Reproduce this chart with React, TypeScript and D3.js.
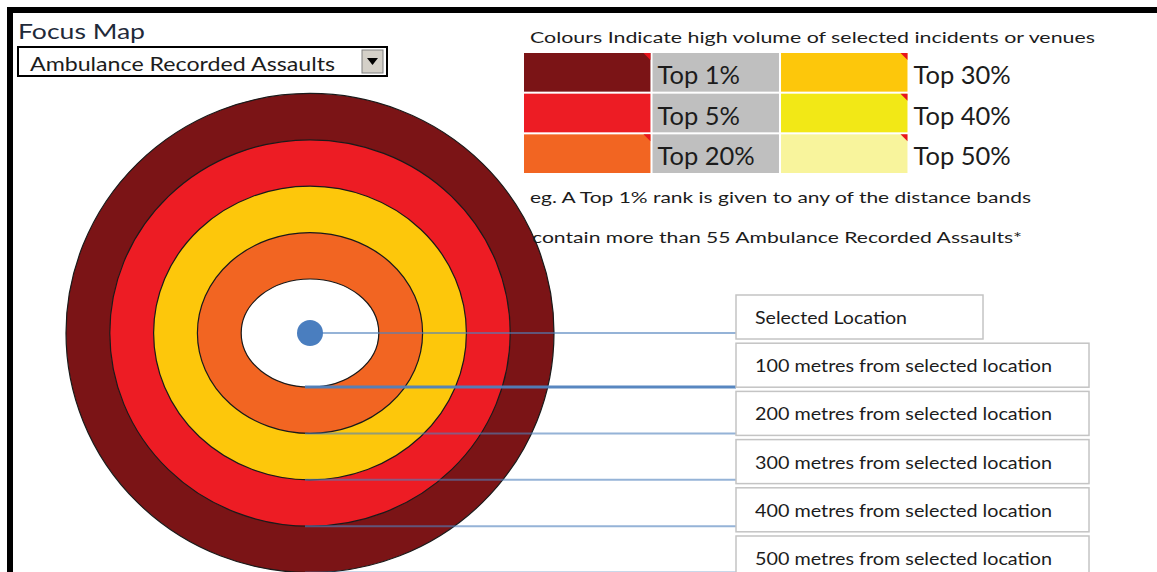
import React from 'react'
import { scaleLinear, scaleBand } from 'd3'

// rings, inner to outer
const ringDistances = [100, 200, 300, 400, 500]
const ringRanks = ['', 'Top 20%', 'Top 30%', 'Top 5%', 'Top 1%']

// legend
const legendLabels = ['Top 1%', 'Top 5%', 'Top 20%', 'Top 30%', 'Top 40%', 'Top 50%']
const legendColours = ['#7b1416', '#ed1c24', '#f26522', '#fdc70b', '#f2e816', '#f8f49c']
const legendCorner = [true, false, true, true, true, true]

// callout boxes
const boxLabels = [
  'Selected Location',
  '100 metres from selected location',
  '200 metres from selected location',
  '300 metres from selected location',
  '400 metres from selected location',
  '500 metres from selected location',
]

const W = 1157
const H = 572
const FONT = 'Lato, "Open Sans", sans-serif'
const TEXT = '#1c1c1c'

const App = () => {
  const cx = 310
  const cy = 333

  // distance (m) -> ellipse radius (px)
  const rx = scaleLinear().domain([0, 500]).range([25, 244])
  const ry = scaleLinear().domain([0, 500]).range([7.6, 239.6])

  const colourOf = (rank: string) => {
    const i = legendLabels.indexOf(rank)
    return i < 0 ? '#ffffff' : legendColours[i]
  }

  const rows = scaleBand<number>().domain([0, 1, 2]).range([53, 173]).paddingInner(0.05)
  const cols = scaleBand<number>().domain([0, 1, 2, 3]).range([524, 1036]).paddingInner(0.016)

  const boxY = scaleLinear().domain([0, boxLabels.length - 1]).range([295, 536])
  const boxX = 736

  // y where each callout line leaves the target
  const lineY = (i: number) => (i === 0 ? cy : cy + ry(ringDistances[i - 1]))

  const rings = ringDistances.map((d, i) => ({ d, rank: ringRanks[i] })).reverse()

  return (
    <svg width={W} height={H} style={{ position: 'absolute', left: 0, top: 0, background: '#fff' }}>
      {/* frame */}
      <rect x={7} y={7} width={W} height={6} fill="#000" />
      <rect x={7} y={7} width={6} height={H} fill="#000" />

      {/* header + dropdown */}
      <text x={18} y={39} fontFamily={FONT} fontSize={21} fill="#1f2a3a" textLength={127} lengthAdjust="spacingAndGlyphs">
        Focus Map
      </text>
      <rect x={18} y={47} width={369} height={29} fill="#fff" stroke="#000" strokeWidth={2} />
      <text x={30} y={71} fontFamily={FONT} fontSize={20} fill={TEXT} textLength={305} lengthAdjust="spacingAndGlyphs">
        Ambulance Recorded Assaults
      </text>
      <rect x={362} y={50} width={21} height={23} fill="#d4d0c8" stroke="#808080" strokeWidth={1} />
      <path d="M367,58 L378,58 L372.5,65 Z" fill="#000" />

      {/* rings */}
      {rings.map(r => (
        <ellipse
          key={r.d}
          cx={cx}
          cy={cy}
          rx={rx(r.d)}
          ry={ry(r.d)}
          fill={colourOf(r.rank)}
          stroke="#1a1a1a"
          strokeWidth={1.2}
        />
      ))}

      {/* callout lines */}
      {boxLabels.map((lab, i) => (
        <line
          key={'l' + i}
          x1={i === 0 ? cx : cx - 5}
          x2={boxX}
          y1={lineY(i)}
          y2={lineY(i)}
          stroke="#4f81bd"
          strokeOpacity={i === 1 ? 0.95 : 0.6}
          strokeWidth={i === 1 ? 3 : 2}
        />
      ))}
      <circle cx={cx} cy={cy} r={13} fill="#4a7ebf" />

      {/* callout boxes */}
      {boxLabels.map((lab, i) => (
        <g key={'b' + i} transform={`translate(${boxX},${boxY(i)})`}>
          <rect width={i === 0 ? 247 : 353} height={44} fill="#fff" stroke="#c4c4c4" strokeWidth={1.5} />
          <text
            x={19}
            y={29}
            fontFamily={FONT}
            fontSize={16.5}
            fill={TEXT}
            textLength={i === 0 ? 152 : 297}
            lengthAdjust="spacingAndGlyphs"
          >
            {lab}
          </text>
        </g>
      ))}

      {/* legend */}
      <text x={530} y={43} fontFamily={FONT} fontSize={16} fill={TEXT} textLength={565} lengthAdjust="spacingAndGlyphs">
        Colours Indicate high volume of selected incidents or venues
      </text>
      {legendLabels.map((lab, i) => {
        const row = i % 3
        const block = Math.floor(i / 3)
        const sx = cols(block * 2)!
        const lx = cols(block * 2 + 1)!
        const y = rows(row)!
        const bw = cols.bandwidth()
        const bh = rows.bandwidth()
        return (
          <g key={lab}>
            <rect x={sx} y={y} width={bw} height={bh} fill={legendColours[i]} />
            {legendCorner[i] && (
              <path d={`M${sx + bw - 7},${y} L${sx + bw},${y} L${sx + bw},${y + 7} Z`} fill="#e8141c" />
            )}
            {block === 0 && <rect x={lx} y={y} width={bw} height={bh} fill="#bfbfbf" />}
            <text x={lx + (block === 0 ? 5 : 4)} y={y + 31} fontFamily={FONT} fontSize={25.5} fill={TEXT}>
              {lab}
            </text>
          </g>
        )
      })}

      <text x={530} y={203} fontFamily={FONT} fontSize={16} fill={TEXT} textLength={501} lengthAdjust="spacingAndGlyphs">
        eg. A Top 1% rank is given to any of the distance bands
      </text>
      <text x={532} y={243} fontFamily={FONT} fontSize={16} fill={TEXT} textLength={490} lengthAdjust="spacingAndGlyphs">
        contain more than 55 Ambulance Recorded Assaults*
      </text>
    </svg>
  )
}

export default App
